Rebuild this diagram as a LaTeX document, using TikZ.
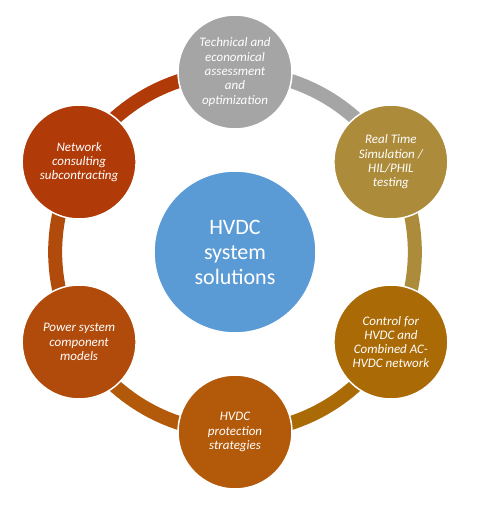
\documentclass[tikz,border=0pt]{standalone}
\usepackage{fontspec}
\setmainfont{Carlito}
\usetikzlibrary{positioning,backgrounds}
\definecolor{hubblue}{HTML}{5B9BD5}
\definecolor{techgray}{HTML}{A5A5A5}
\definecolor{simgold}{HTML}{AC8B3A}
\definecolor{ctrlgold}{HTML}{AA6A05}
\definecolor{protorange}{HTML}{B35A0A}
\definecolor{modelbrown}{HTML}{B14B0C}
\definecolor{netred}{HTML}{B03A08}
\tikzset
{
  hub/.style  = {circle, fill=hubblue, draw=white, line width=1.5pt, minimum size=162pt, align=center, text=white, font=\fontsize{22}{25}\selectfont},
  item/.style = {circle, draw=white, line width=1.5pt, minimum size=114pt, align=center, text=white, font=\fontsize{13}{14.3}\selectfont\itshape},
  ring/.style = {line width=14pt, bend left=30, looseness=0.91}
}

\begin{document}
\begin{tikzpicture}
  \useasboundingbox (-235pt,-257pt) rectangle (249pt,252pt);
  \node [hub] (hvdc) at (0,0) {HVDC\\system\\solutions};
  \node [item, fill=techgray]   (tech)  at (90:180pt)  {Technical and\\economical\\assessment\\and\\optimization};
  \node [item, fill=simgold]    (sim)   at (30:180pt)  {Real Time\\Simulation /\\HIL/PHIL\\testing};
  \node [item, fill=ctrlgold]   (ctrl)  at (-30:180pt) {Control for\\HVDC and\\Combined AC-\\HVDC network};
  \node [item, fill=protorange] (prot)  at (-90:180pt) {HVDC\\protection\\strategies};
  \node [item, fill=modelbrown] (model) at (210:180pt) {Power system\\component\\models};
  \node [item, fill=netred]     (net)   at (150:180pt) {Network\\consulting\\subcontracting};
  \begin{scope}[on background layer]
    \fill [white] (-235pt,-257pt) rectangle (249pt,252pt);
    \draw [ring, techgray]   (tech.center)  to (sim.center);
    \draw [ring, simgold]    (sim.center)   to (ctrl.center);
    \draw [ring, ctrlgold]   (ctrl.center)  to (prot.center);
    \draw [ring, protorange] (prot.center)  to (model.center);
    \draw [ring, modelbrown] (model.center) to (net.center);
    \draw [ring, netred]     (net.center)   to (tech.center);
  \end{scope}
\end{tikzpicture}
\end{document}
